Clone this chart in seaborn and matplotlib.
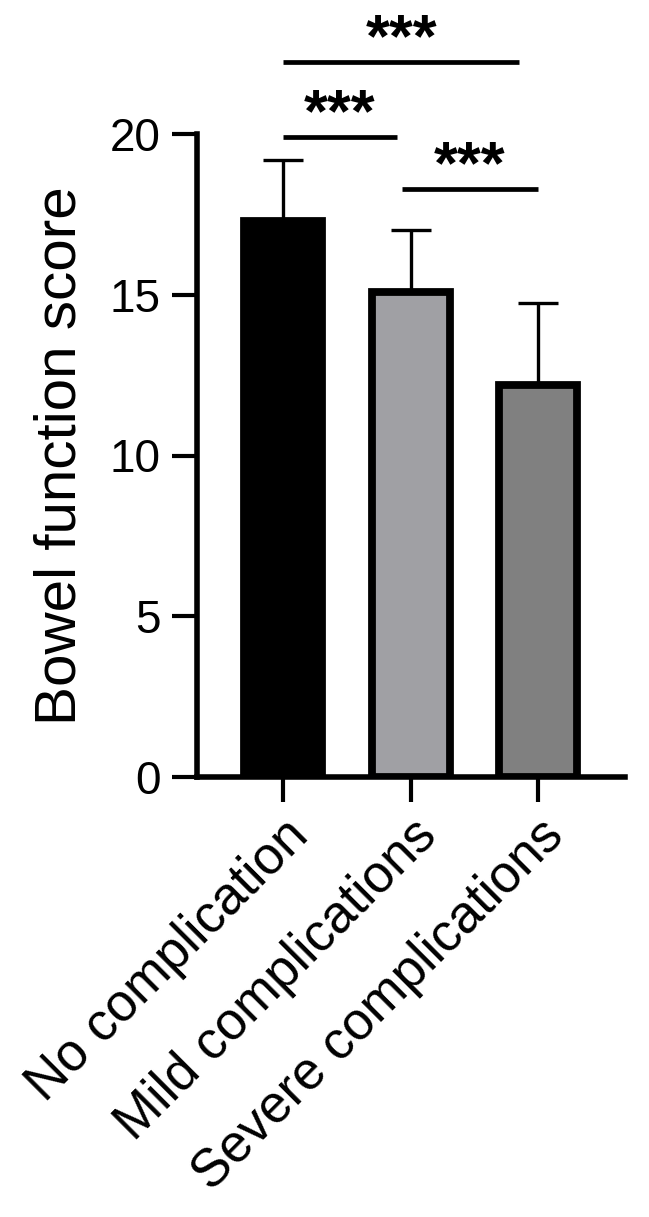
import matplotlib
matplotlib.use("Agg")
import matplotlib.pyplot as plt
import matplotlib.transforms as mtransforms
import seaborn as sns
import pandas as pd

categories = ["No complication", "Mild complications", "Severe complications"]
means = [17.3, 15.1, 12.2]
sds = [1.9, 1.9, 2.55]
bar_colors = ["#000000", "#A0A0A4", "#808080"]
y_ticks = [0, 5, 10, 15, 20]
# significance comparisons: (left x, right x, label)
comparisons = [(0, 1.85, "***"), (0, 0.89, "***"), (0.93, 2.0, "***")]
comparison_levels = [22.24, 19.9, 18.29]

sns.set_style("ticks")
plt.rcParams["font.family"] = ["Liberation Sans", "DejaVu Sans"]
for k in ["text.color", "axes.labelcolor", "xtick.color", "ytick.color", "axes.edgecolor"]:
    plt.rcParams[k] = "black"

df = pd.DataFrame({"group": categories, "score": means})

fig = plt.figure(figsize=(6.49, 12.17), dpi=100)
ax = fig.add_axes([197 / 649, 1 - 777 / 1217, (625 - 197) / 649, (777 - 134) / 1217])

ax.errorbar(range(len(categories)), means, yerr=[[0] * len(sds), sds], fmt="none",
            ecolor="black", elinewidth=2.4, capsize=14.5, capthick=2.4, zorder=1)
sns.barplot(data=df, x="group", y="score", hue="group", palette=bar_colors,
            edgecolor="black", linewidth=5.6, width=0.61, legend=False,
            errorbar=None, ax=ax, zorder=2)

ax.set_xlim(-0.675, 2.68)
ax.set_ylim(0, 20)
ax.set_yticks(y_ticks)
ax.set_yticklabels([str(t) for t in y_ticks], fontsize=33)
ax.set_xticks(range(len(categories)))
ax.set_xticklabels(categories, fontsize=38, rotation=45, ha="right",
                   va="top", rotation_mode="anchor")
ax.set_xlabel("")
ax.set_ylabel("Bowel function score", fontsize=42)
ax.yaxis.set_label_coords(-0.255, 0.5)

for s in ["top", "right"]:
    ax.spines[s].set_visible(False)
for s in ["left", "bottom"]:
    ax.spines[s].set_linewidth(4)
ax.tick_params(axis="both", width=3, length=18, color="black", pad=8)
ax.tick_params(axis="x", pad=6)

star_offset = mtransforms.offset_copy(ax.transData, fig=fig, x=0, y=4, units="points")
for (x0, x1, lab), lvl in zip(comparisons, comparison_levels):
    ax.plot([x0, x1], [lvl, lvl], color="black", lw=3.4, clip_on=False,
            solid_capstyle="butt")
    ax.text((x0 + x1) / 2, lvl, lab, ha="center", va="baseline", fontsize=44,
            fontweight="bold", clip_on=False, transform=star_offset)

fig.savefig("out.png", dpi=100)
